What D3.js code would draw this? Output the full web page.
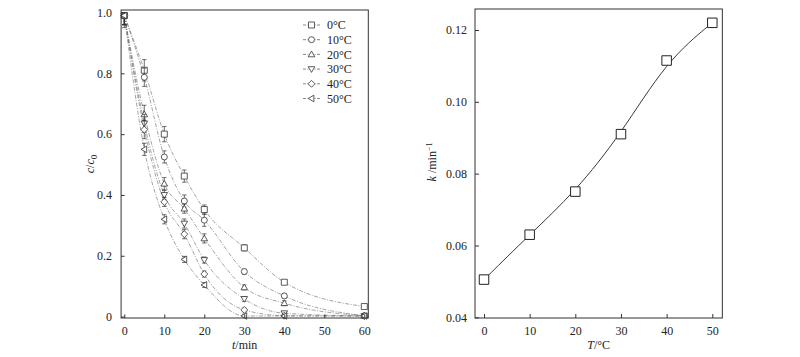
<!DOCTYPE html>
<html><head><meta charset="utf-8">
<script src="https://cdn.jsdelivr.net/npm/d3@7"></script>
<style>
html,body{margin:0;padding:0;background:#fff;}
svg{display:block;}
svg text{font-family:"Times New Roman","Liberation Serif",Tinos,Times,serif;fill:#222;}
</style></head>
<body>
<svg id="chart" width="800" height="357"></svg>
<script>
// ---------- data ----------
const times = [0, 5, 10, 15, 20, 30, 40, 60];
const seriesNames = ["0°C", "10°C", "20°C", "30°C", "40°C", "50°C"];
const c0  = [0.99, 0.81, 0.600, 0.462, 0.352, 0.226, 0.113, 0.033];
const c10 = [0.99, 0.787, 0.525, 0.380, 0.317, 0.148, 0.068, 0.003];
const c20 = [0.99, 0.665, 0.437, 0.355, 0.257, 0.096, 0.044, 0.003];
const c30 = [0.99, 0.635, 0.400, 0.306, 0.186, 0.058, 0.011, 0.002];
const c40 = [0.99, 0.615, 0.377, 0.271, 0.140, 0.022, 0.003, 0.002];
const c50 = [0.99, 0.550, 0.320, 0.188, 0.104, 0.002, 0.002, 0.002];
const e0  = [0.04, 0.035, 0.025, 0.02, 0.015, 0.010, 0.005, 0.005];
const e10 = [0.03, 0.030, 0.020, 0.02, 0.020, 0.008, 0.008, 0.004];
const e20 = [0.03, 0.030, 0.020, 0.015, 0.015, 0.008, 0.008, 0.004];
const e30 = [0.03, 0.030, 0.015, 0.015, 0.010, 0.008, 0.006, 0.004];
const e40 = [0.03, 0.030, 0.015, 0.015, 0.010, 0.006, 0.006, 0.004];
const e50 = [0.03, 0.020, 0.015, 0.010, 0.008, 0.006, 0.004, 0.004];
const seriesSymbols = ["square", "circle", "triUp", "triDown", "diamond", "triLeft"];
const leftXTicks = [0, 10, 20, 30, 40, 50, 60];
const leftYTicks = [0, 0.2, 0.4, 0.6, 0.8, 1.0];

const tempT = [0, 10, 20, 30, 40, 50];
const rateK = [0.0505, 0.063, 0.075, 0.091, 0.1115, 0.122];
const rightXTicks = [0, 10, 20, 30, 40, 50];
const rightYTicks = [0.04, 0.06, 0.08, 0.10, 0.12];

const seriesC = [c0, c10, c20, c30, c40, c50];
const seriesE = [e0, e10, e20, e30, e40, e50];

// ---------- helpers ----------
const svg = d3.select("#chart");
const ink = "#333";

function symbolPath(type, s) {
  const h = s / 2;
  switch (type) {
    case "square": return `M${-h},${-h}H${h}V${h}H${-h}Z`;
    case "circle": return `M${h},0A${h},${h} 0 1,1 ${-h},0A${h},${h} 0 1,1 ${h},0Z`;
    case "triUp": return `M0,${-h*1.1}L${h*1.1},${h*0.8}L${-h*1.1},${h*0.8}Z`;
    case "triDown": return `M0,${h*1.1}L${h*1.1},${-h*0.8}L${-h*1.1},${-h*0.8}Z`;
    case "diamond": return `M0,${-h*1.15}L${h*1.15},0L0,${h*1.15}L${-h*1.15},0Z`;
    case "triLeft": return `M${-h*1.1},0L${h*0.8},${-h*1.1}L${h*0.8},${h*1.1}Z`;
  }
}

// ---------- left panel ----------
const xL = d3.scaleLinear().domain([0, 60]).range([124.3, 364.3]);
const yL = d3.scaleLinear().domain([0, 1]).range([316.6, 12.5]);
const L = svg.append("g");
const lx0 = xL(-0.8), lx1 = xL(61), ly0 = 318, ly1 = 10;

// curves
const lineL = d3.line().x(d => xL(d[0])).y(d => yL(d[1])).curve(d3.curveMonotoneX);
seriesC.forEach((vals) => {
  L.append("path")
    .attr("d", lineL(times.map((t, i) => [t, vals[i]])))
    .attr("fill", "none").attr("stroke", "#666").attr("stroke-width", 0.6)
    .attr("stroke-dasharray", "4,1.5,1,1.5");
});
// error bars + markers
seriesC.forEach((vals, si) => {
  const g = L.append("g");
  times.forEach((t, i) => {
    const e = seriesE[si][i];
    const x = xL(t), yt = yL(Math.min(1.0, vals[i] + e)), yb = yL(Math.max(0, vals[i] - e));
    g.append("path")
      .attr("d", `M${x},${yt}V${yb}M${x-2.2},${yt}H${x+2.2}M${x-2.2},${yb}H${x+2.2}`)
      .attr("stroke", ink).attr("stroke-width", 0.7).attr("fill", "none");
  });
  g.selectAll("path.m").data(times.map((t, i) => [t, vals[i]])).join("path")
    .attr("class", "m")
    .attr("transform", d => `translate(${xL(d[0])},${yL(d[1])})`)
    .attr("d", symbolPath(seriesSymbols[si], 6))
    .attr("fill", "#fff").attr("stroke", ink).attr("stroke-width", 0.8);
});

// frame
L.append("rect").attr("x", lx0).attr("y", ly1).attr("width", lx1 - lx0).attr("height", ly0 - ly1)
  .attr("fill", "none").attr("stroke", ink).attr("stroke-width", 1);
// ticks (inward)
const axLB = L.append("g").attr("transform", `translate(0,${ly0})`)
  .call(d3.axisBottom(xL).tickValues(leftXTicks).tickSizeInner(-3.5).tickSizeOuter(0).tickPadding(8));
const axLL = L.append("g").attr("transform", `translate(${lx0},0)`)
  .call(d3.axisLeft(yL).tickValues(leftYTicks).tickSizeInner(-3.5).tickSizeOuter(0).tickPadding(9)
    .tickFormat(d => d === 0 ? "0" : d3.format(".1f")(d)));
[axLB, axLL].forEach(a => {
  a.attr("font-family", null).attr("font-size", null);
  a.select(".domain").remove();
  a.selectAll("line").attr("stroke", ink);
  a.selectAll("text").attr("font-size", 12).attr("fill", "#222");
});
// legend
const leg = L.append("g");
seriesNames.forEach((n, i) => {
  const y = 25 + i * 14.7;
  leg.append("line").attr("x1", 303).attr("x2", 320).attr("y1", y).attr("y2", y)
    .attr("stroke", "#555").attr("stroke-width", 0.7).attr("stroke-dasharray", "3,1.5,1,1.5");
  leg.append("path").attr("transform", `translate(311.5,${y})`).attr("d", symbolPath(seriesSymbols[i], 6))
    .attr("fill", "#fff").attr("stroke", ink).attr("stroke-width", 0.8);
  leg.append("text").attr("x", 327).attr("y", y).attr("dy", "0.35em").attr("font-size", 12).text(n);
});
// axis titles
const yt = L.append("text").attr("transform", `translate(94,164) rotate(-90)`)
  .attr("text-anchor", "middle").attr("font-size", 12);
yt.append("tspan").attr("font-style", "italic").text("c");
yt.append("tspan").text("/");
yt.append("tspan").attr("font-style", "italic").text("c");
yt.append("tspan").attr("font-size", 9).attr("dy", 3).text("0");
const xt = L.append("text").attr("x", (lx0 + lx1) / 2).attr("y", 349).attr("text-anchor", "middle").attr("font-size", 12);
xt.append("tspan").attr("font-style", "italic").text("t");
xt.append("tspan").text("/min");

// ---------- right panel ----------
const xR = d3.scaleLinear().domain([0, 50]).range([484, 712.3]);
const yR = d3.scaleLinear().domain([0.04, 0.12]).range([317.3, 30]);
const R = svg.append("g");
const rx0 = xR(-1.97), rx1 = xR(52.2), ry0 = 318, ry1 = 9;

const lineR = d3.line().x(d => xR(d[0])).y(d => yR(d[1])).curve(d3.curveBasis);
R.append("path").attr("d", lineR(tempT.map((t, i) => [t, rateK[i]])))
  .attr("fill", "none").attr("stroke", "#222").attr("stroke-width", 0.9);
R.selectAll("path.m").data(tempT.map((t, i) => [t, rateK[i]])).join("path")
  .attr("class", "m")
  .attr("transform", d => `translate(${xR(d[0])},${yR(d[1])})`)
  .attr("d", symbolPath("square", 9.5))
  .attr("fill", "#fff").attr("stroke", "#222").attr("stroke-width", 1);

R.append("rect").attr("x", rx0).attr("y", ry1).attr("width", rx1 - rx0).attr("height", ry0 - ry1)
  .attr("fill", "none").attr("stroke", ink).attr("stroke-width", 1);
const axRB = R.append("g").attr("transform", `translate(0,${ry0})`)
  .call(d3.axisBottom(xR).tickValues(rightXTicks).tickSizeInner(-4).tickSizeOuter(0).tickPadding(8));
const axRL = R.append("g").attr("transform", `translate(${rx0},0)`)
  .call(d3.axisLeft(yR).tickValues(rightYTicks).tickSizeInner(-4).tickSizeOuter(0).tickPadding(8)
    .tickFormat(d3.format(".2f")));
[axRB, axRL].forEach(a => {
  a.attr("font-family", null).attr("font-size", null);
  a.select(".domain").remove();
  a.selectAll("line").attr("stroke", ink);
  a.selectAll("text").attr("font-size", 12).attr("fill", "#222");
});
const kt = R.append("text").attr("transform", `translate(436,162) rotate(-90)`)
  .attr("text-anchor", "middle").attr("font-size", 12);
kt.append("tspan").attr("font-style", "italic").text("k");
kt.append("tspan").text(" /min");
kt.append("tspan").attr("font-size", 8).attr("dy", -4).text("−1");
const Tt = R.append("text").attr("x", (rx0 + rx1) / 2).attr("y", 349).attr("text-anchor", "middle").attr("font-size", 12);
Tt.append("tspan").attr("font-style", "italic").text("T");
Tt.append("tspan").text("/°C");
</script>
</body></html>
